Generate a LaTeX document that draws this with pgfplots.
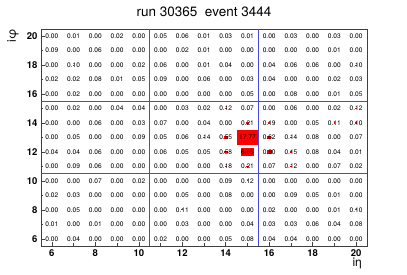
\documentclass[border=0pt]{standalone}
\usepackage{fontspec}
\setmainfont{TeX Gyre Heros}
\usepackage{pgfplots}
\usepackage{pgfplotstable}
\pgfplotsset{compat=1.18}

\pgfplotstableread[row sep=\\]{
x y v\\
6 20 0.00\\ 7 20 0.01\\ 8 20 0.00\\ 9 20 0.02\\ 10 20 0.00\\ 11 20 0.05\\ 12 20 0.06\\ 13 20 0.01\\ 14 20 0.03\\ 15 20 0.01\\ 16 20 0.00\\ 17 20 0.03\\ 18 20 0.00\\ 19 20 0.03\\ 20 20 0.00\\
6 19 0.09\\ 7 19 0.00\\ 8 19 0.06\\ 9 19 0.00\\ 10 19 0.00\\ 11 19 0.00\\ 12 19 0.02\\ 13 19 0.01\\ 14 19 0.00\\ 15 19 0.00\\ 16 19 0.00\\ 17 19 0.00\\ 18 19 0.00\\ 19 19 0.01\\ 20 19 0.00\\
6 18 0.00\\ 7 18 0.10\\ 8 18 0.00\\ 9 18 0.00\\ 10 18 0.02\\ 11 18 0.06\\ 12 18 0.00\\ 13 18 0.01\\ 14 18 0.04\\ 15 18 0.00\\ 16 18 0.04\\ 17 18 0.06\\ 18 18 0.06\\ 19 18 0.00\\ 20 18 0.10\\
6 17 0.02\\ 7 17 0.02\\ 8 17 0.08\\ 9 17 0.01\\ 10 17 0.05\\ 11 17 0.09\\ 12 17 0.00\\ 13 17 0.06\\ 14 17 0.00\\ 15 17 0.03\\ 16 17 0.04\\ 17 17 0.00\\ 18 17 0.00\\ 19 17 0.02\\ 20 17 0.03\\
6 16 0.00\\ 7 16 0.02\\ 8 16 0.00\\ 9 16 0.00\\ 10 16 0.00\\ 11 16 0.00\\ 12 16 0.00\\ 13 16 0.00\\ 14 16 0.00\\ 15 16 0.05\\ 16 16 0.00\\ 17 16 0.08\\ 18 16 0.00\\ 19 16 0.01\\ 20 16 0.05\\
6 15 0.00\\ 7 15 0.02\\ 8 15 0.00\\ 9 15 0.04\\ 10 15 0.04\\ 11 15 0.00\\ 12 15 0.03\\ 13 15 0.02\\ 14 15 0.12\\ 15 15 0.07\\ 16 15 0.00\\ 17 15 0.06\\ 18 15 0.00\\ 19 15 0.02\\ 20 15 0.12\\
6 14 0.00\\ 7 14 0.00\\ 8 14 0.06\\ 9 14 0.00\\ 10 14 0.03\\ 11 14 0.07\\ 12 14 0.00\\ 13 14 0.04\\ 14 14 0.00\\ 15 14 0.21\\ 16 14 0.19\\ 17 14 0.00\\ 18 14 0.05\\ 19 14 0.11\\ 20 14 0.10\\
6 13 0.00\\ 7 13 0.05\\ 8 13 0.00\\ 9 13 0.00\\ 10 13 0.09\\ 11 13 0.05\\ 12 13 0.06\\ 13 13 0.14\\ 14 13 0.55\\ 15 13 17.77\\ 16 13 0.62\\ 17 13 0.14\\ 18 13 0.08\\ 19 13 0.00\\ 20 13 0.07\\
6 12 0.04\\ 7 12 0.04\\ 8 12 0.06\\ 9 12 0.00\\ 10 12 0.00\\ 11 12 0.06\\ 12 12 0.05\\ 13 12 0.05\\ 14 12 0.58\\ 15 12 6.65\\ 16 12 0.90\\ 17 12 0.15\\ 18 12 0.08\\ 19 12 0.04\\ 20 12 0.01\\
6 11 0.00\\ 7 11 0.09\\ 8 11 0.06\\ 9 11 0.00\\ 10 11 0.00\\ 11 11 0.00\\ 12 11 0.00\\ 13 11 0.00\\ 14 11 0.18\\ 15 11 0.21\\ 16 11 0.07\\ 17 11 0.12\\ 18 11 0.00\\ 19 11 0.07\\ 20 11 0.02\\
6 10 0.00\\ 7 10 0.00\\ 8 10 0.07\\ 9 10 0.00\\ 10 10 0.02\\ 11 10 0.00\\ 12 10 0.00\\ 13 10 0.00\\ 14 10 0.09\\ 15 10 0.12\\ 16 10 0.00\\ 17 10 0.00\\ 18 10 0.00\\ 19 10 0.00\\ 20 10 0.00\\
6 9 0.02\\ 7 9 0.03\\ 8 9 0.00\\ 9 9 0.00\\ 10 9 0.00\\ 11 9 0.00\\ 12 9 0.05\\ 13 9 0.00\\ 14 9 0.08\\ 15 9 0.00\\ 16 9 0.00\\ 17 9 0.09\\ 18 9 0.05\\ 19 9 0.01\\ 20 9 0.00\\
6 8 0.00\\ 7 8 0.05\\ 8 8 0.00\\ 9 8 0.00\\ 10 8 0.00\\ 11 8 0.00\\ 12 8 0.11\\ 13 8 0.00\\ 14 8 0.00\\ 15 8 0.00\\ 16 8 0.02\\ 17 8 0.00\\ 18 8 0.00\\ 19 8 0.01\\ 20 8 0.10\\
6 7 0.01\\ 7 7 0.00\\ 8 7 0.01\\ 9 7 0.00\\ 10 7 0.00\\ 11 7 0.00\\ 12 7 0.03\\ 13 7 0.00\\ 14 7 0.00\\ 15 7 0.04\\ 16 7 0.03\\ 17 7 0.03\\ 18 7 0.06\\ 19 7 0.04\\ 20 7 0.08\\
6 6 0.00\\ 7 6 0.04\\ 8 6 0.00\\ 9 6 0.00\\ 10 6 0.00\\ 11 6 0.02\\ 12 6 0.00\\ 13 6 0.00\\ 14 6 0.05\\ 15 6 0.08\\ 16 6 0.04\\ 17 6 0.04\\ 18 6 0.00\\ 19 6 0.00\\ 20 6 0.00\\
}\cells

\definecolor{sepblue}{RGB}{70,70,235}

% box side proportional to sqrt(value / max); transformed meta runs 0..1000
\pgfdeclareplotmark{cellbox}{%
  \pgfkeys{/pgf/fpu=false}%
  \pgfmathsetmacro\s{sqrt(\pgfplotspointmetatransformed/1000)}%
  \ifdim\s pt<0.073pt\else
    \pgfpathrectangle{\pgfpoint{-\s*10.867pt}{-\s*7.233pt}}{\pgfpoint{\s*21.733pt}{\s*14.467pt}}%
    \pgfusepathqfill
  \fi}

\begin{document}
\begin{tikzpicture}
\path[use as bounding box] (-41pt,-29pt) rectangle (366pt,246pt);
\begin{axis}[
  at={(0,0)}, anchor=south west,
  scale only axis, width=326pt, height=217pt,
  xmin=5.5, xmax=20.5, ymin=5.5, ymax=20.5,
  xtick={6,8,...,20}, ytick={6,8,...,20},
  minor xtick={7,9,...,19}, minor ytick={7,9,...,19},
  tick align=inside, tick pos=left,
  major tick length=4pt, minor tick length=2.5pt,
  axis line style={black!75, line width=0.6pt},
  tick style={black!75, line width=0.5pt},
  ticklabel style={font=\fontsize{9.5}{9.5}\selectfont\bfseries},
  /pgf/number format/assume math mode=true,
  title={run 30365\ \ event 3444},
  title style={font=\fontsize{13.5}{13.5}\selectfont, at={(axis description cs:0.5,1.032)}, anchor=base},
  xlabel={iη},
  xlabel style={font=\fontsize{12}{12}\selectfont, at={(axis description cs:0.985,-0.055)}, anchor=north east, inner sep=0pt},
  ylabel={iφ},
  ylabel style={font=\fontsize{12}{12}\selectfont, at={(axis description cs:-0.086,1.0)}, anchor=east, inner sep=0pt},
  clip=false,
]
\addplot[scatter, only marks, mark=cellbox, red, fill=red, draw=none,
  point meta=explicit, point meta min=0, point meta max=17.77,
  scatter/@pre marker code/.code={},
  scatter/@post marker code/.code={}]
  table[x=x, y=y, meta=v] {\cells};
\addplot[draw=sepblue, line width=0.8pt, mark=none] coordinates {(5.5,15.5) (20.5,15.5)};
\addplot[draw=sepblue, line width=0.8pt, mark=none] coordinates {(5.5,10.5) (20.5,10.5)};
\addplot[draw=sepblue, line width=0.8pt, mark=none] coordinates {(10.5,5.5) (10.5,20.5)};
\addplot[draw=sepblue, line width=0.8pt, mark=none] coordinates {(15.5,5.5) (15.5,20.5)};
\addplot[only marks, mark=*, mark size=0pt, mark options={draw=none, fill=none},
  point meta=explicit,
  nodes near coords={\pgfmathprintnumber[fixed, fixed zerofill, precision=2]{\pgfplotspointmeta}},
  nodes near coords align={center},
  every node near coord/.append style={font=\fontsize{6.6}{6.6}\selectfont, inner sep=0pt, anchor=center, text=black}]
  table[x=x, y=y, meta=v] {\cells};
\end{axis}
\end{tikzpicture}
\end{document}
